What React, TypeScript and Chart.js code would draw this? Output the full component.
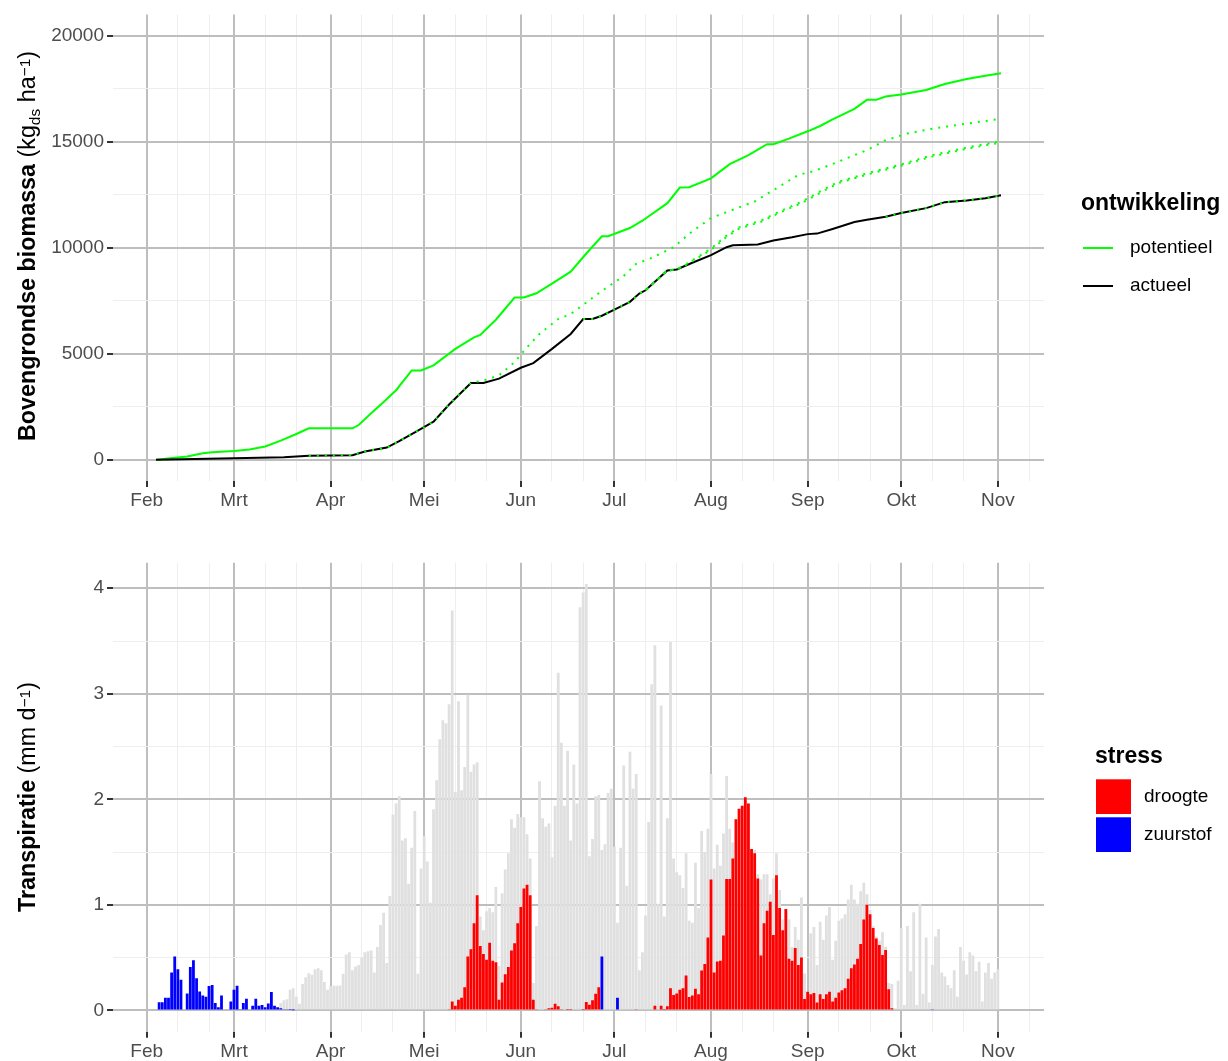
import React, { useEffect, useRef } from "react";
import { Chart, registerables } from "chart.js";

Chart.register(...registerables);

const FONT = '"Liberation Sans", Arial, Helvetica, sans-serif';

// x-as in dagen vanaf 1 februari
const maanden = ["Feb", "Mrt", "Apr", "Mei", "Jun", "Jul", "Aug", "Sep", "Okt", "Nov"];
const maandStart = [0, 28, 59, 89, 120, 150, 181, 212, 242, 273];
const xMin = -10.8;
const xMax = 287.8;

// Bovengrondse biomassa (kg ds/ha) als [dag, waarde]
const potentieel: [number, number][] = [
  [3, 0], [13, 155], [18, 313], [21, 360], [28, 420], [33, 484], [38, 625], [43, 905],
  [48, 1218], [52, 1483], [66, 1483], [68, 1640], [72, 2190], [76, 2730], [80, 3280],
  [85, 4215], [88, 4215], [92, 4450], [99, 5230], [105, 5776], [107, 5886], [112, 6604],
  [118, 7650], [121, 7650], [125, 7853], [130, 8306], [136, 8868], [141, 9727], [146, 10539],
  [148, 10539], [155, 10929], [159, 11273], [167, 12100], [171, 12834], [174, 12850],
  [181, 13270], [187, 13942], [193, 14365], [199, 14880], [201, 14880], [206, 15145],
  [212, 15488], [216, 15738], [220, 16050], [227, 16550], [231, 16970], [234, 16970],
  [237, 17128], [242, 17222], [250, 17440], [256, 17720], [263, 17954], [269, 18110], [274, 18220],
];

const actueel: [number, number][] = [
  [3, 0], [28, 78], [44, 125], [52, 187], [66, 218], [70, 390], [77, 578], [81, 880],
  [87, 1380], [92, 1795], [97, 2608], [104, 3620], [108, 3620], [113, 3825], [120, 4340],
  [124, 4560], [130, 5230], [136, 5933], [140, 6636], [143, 6636], [146, 6792], [151, 7150],
  [155, 7447], [158, 7837], [160, 7993], [167, 8930], [170, 8977], [175, 9290], [181, 9649],
  [186, 10024], [188, 10117], [196, 10148], [201, 10336], [207, 10492], [212, 10640],
  [215, 10665], [220, 10883], [227, 11211], [231, 11321], [237, 11461], [242, 11632],
  [250, 11866], [256, 12147], [263, 12225], [269, 12335], [274, 12475],
];

// Potentiële groei vanaf de actuele stand op een latere startdatum (stippellijnen)
const vanafMaart: [number, number][] = [
  [52, 187], [66, 218], [70, 390], [77, 578], [81, 880], [87, 1380], [92, 1795], [97, 2608],
  [104, 3620], [109, 3780], [113, 3981], [118, 4605], [122, 5307], [126, 5933], [132, 6636],
  [136, 6870], [141, 7415], [146, 7963], [153, 8665], [157, 9240], [162, 9522], [169, 10023],
  [175, 10773], [181, 11396], [188, 11790], [195, 12178], [202, 12803], [209, 13430],
  [214, 13616], [220, 13943], [231, 14599], [237, 15067], [244, 15380], [252, 15614],
  [263, 15848], [274, 16080],
];

const vanafJuni: [number, number][] = [
  [140, 6636], [143, 6636], [146, 6792], [151, 7150], [155, 7447], [158, 7837], [160, 7993],
  [167, 8930], [170, 8977], [173, 9213], [181, 9962], [186, 10570], [190, 10960],
  [197, 11273], [203, 11710], [210, 12160], [216, 12650], [222, 13115], [231, 13505],
  [242, 13927], [252, 14365], [263, 14725], [274, 15022],
];

const vanafJuli: [number, number][] = [
  [160, 7993], [167, 8930], [170, 8977], [173, 9190], [181, 9900], [186, 10510], [190, 10900],
  [197, 11215], [203, 11650], [210, 12100], [216, 12590], [222, 13055], [231, 13445],
  [242, 13870], [252, 14305], [263, 14665], [274, 14960],
];

const vanafSeptember: [number, number][] = [
  [237, 11461], [242, 11632], [250, 11866], [256, 12147], [263, 12225], [269, 12335], [274, 12475],
];

// Transpiratie (mm/d), één waarde per dag vanaf de startdag
const transpiratieStart = 43;
const transpiratie = [
  0.07, 0.095, 0.105, 0.195, 0.21, 0.13, 0.063, 0.25, 0.315, 0.353,
  0.337, 0.39, 0.40, 0.38, 0.27, 0.195, 0.23, 0.233, 0.233, 0.236,
  0.346, 0.53, 0.55, 0.38, 0.415, 0.43, 0.50, 0.55, 0.56, 0.567,
  0.36, 0.60, 0.81, 0.926, 0.45, 1.083, 1.855, 1.96, 2.03, 1.61,
  1.63, 1.20, 1.54, 1.89, 0.346, 1.345, 1.65, 1.41, 1.02, 1.905,
  2.18, 2.57, 2.75, 2.72, 2.90, 3.79, 2.07, 2.93, 2.085, 2.305,
  2.99, 2.26, 2.33, 2.35, 0.89, 0.76, 0.94, 0.97, 0.93, 1.17,
  0.42, 1.11, 1.335, 1.49, 1.81, 1.73, 1.86, 1.83, 1.83, 1.67,
  1.44, 0.26, 0.80, 2.17, 1.82, 1.74, 1.77, 1.45, 1.94, 3.20,
  2.535, 1.94, 2.46, 1.61, 2.33, 1.96, 3.82, 3.96, 4.04, 1.46,
  1.625, 2.03, 2.04, 1.52, 1.575, 2.06, 2.10, 1.55, 0.83, 1.54,
  2.32, 1.18, 2.45, 2.10, 2.24, 0.38, 0.55, 0.90, 1.785, 3.09,
  3.46, 1.01, 2.89, 0.89, 1.82, 3.49, 1.44, 1.31, 1.28, 1.16,
  1.49, 0.85, 0.83, 1.40, 0.97, 1.70, 1.50, 1.72, 2.24, 1.345,
  1.57, 1.37, 1.675, 2.22, 1.72, 1.59, 1.81, 1.91, 1.94, 2.02,
  1.96, 1.53, 1.52, 1.29, 1.24, 1.29, 1.29, 1.10, 1.25, 1.49,
  1.14, 0.86, 0.96, 0.86, 0.60, 0.79, 0.67, 1.07, 0.35, 0.18,
  0.73, 0.79, 0.43, 0.84, 0.67, 0.90, 0.98, 0.48, 0.66, 0.85,
  0.87, 0.91, 1.05, 1.19, 1.05, 1.01, 1.13, 1.21, 1.10, 0.95,
  0.80, 0.70, 0.66, 0.74, 0.60, 0.26, 0.25, 0.02, 0.28, 0.78,
  0.05, 0.80, 0.37, 0.93, 0.05, 1.01, 0.157, 0.69, 0.075, 0.43,
  0.70, 0.77, 0.36, 0.32, 0.24, 0.21, 0.38, 0.13, 0.60, 0.47,
  0.34, 0.55, 0.52, 0.37, 0.46, 0.085, 0.36, 0.45, 0.30, 0.36,
  0.39,
];

// Reductie door droogtestress (mm/d)
const droogteStart = 97;
const droogte = [
  0.01, 0.085, 0.044, 0.10, 0.12, 0.22, 0.51, 0.58, 0.825, 1.09,
  0.61, 0.535, 0.48, 0.64, 0.47, 0.455, 0.10, 0.265, 0.343, 0.41,
  0.567, 0.636, 0.825, 0.98, 1.155, 1.19, 1.09, 0.10, 0.01, 0,
  0, 0.006, 0.02, 0.025, 0.063, 0.038, 0.005, 0, 0.013, 0.013,
  0, 0, 0, 0.013, 0.08, 0.054, 0.095, 0.157, 0.22, 0,
  0, 0, 0, 0, 0, 0, 0, 0, 0, 0,
  0.01, 0, 0, 0, 0, 0, 0.044, 0, 0.044, 0.013,
  0.04, 0.21, 0.145, 0.16, 0.195, 0.21, 0.33, 0.126, 0.14, 0.205,
  0.154, 0.378, 0.44, 0.69, 1.24, 0.36, 0.463, 0.47, 0.71, 1.244,
  1.244, 1.44, 1.81, 1.91, 1.94, 2.02, 1.96, 1.53, 1.49, 1.25,
  0.52, 0.825, 0.945, 1.03, 0.715, 1.28, 0.97, 0.76, 0.96, 0.49,
  0.47, 0.59, 0.43, 0.50, 0.107, 0.176, 0.154, 0.164, 0.075, 0.154,
  0.107, 0.154, 0.176, 0.085, 0.12, 0.17, 0.19, 0.21, 0.30, 0.40,
  0.435, 0.49, 0.63, 0.86, 1.0, 0.91, 0.78, 0.68, 0.62, 0.525,
  0.573, 0.20, 0.02,
];

// Reductie door zuurstofstress (mm/d) als [dag, waarde]
const zuurstof: [number, number][] = [
  [4, 0.076], [5, 0.076], [6, 0.12], [7, 0.12], [8, 0.36], [9, 0.51], [10, 0.39], [11, 0.29],
  [13, 0.16], [14, 0.41], [15, 0.475], [16, 0.305], [17, 0.18], [18, 0.14], [19, 0.13],
  [20, 0.23], [21, 0.24], [22, 0.07], [23, 0.03], [24, 0.14], [27, 0.085], [28, 0.195],
  [29, 0.233], [30, 0.005], [31, 0.07], [32, 0.11], [34, 0.045], [35, 0.11], [36, 0.045],
  [37, 0.05], [38, 0.03], [39, 0.065], [40, 0.175], [41, 0.045], [42, 0.03], [43, 0.02],
  [44, 0.01], [45, 0.006], [46, 0.004], [47, 0.002], [146, 0.51], [151, 0.12], [252, 0.005],
];

const biomassaTicks = [0, 2500, 5000, 7500, 10000, 12500, 15000, 17500, 20000];
const transpiratieTicks = [0, 0.5, 1, 1.5, 2, 2.5, 3, 3.5, 4];

const GRID_MAJOR = "#BEBEBE";
const GRID_MINOR = "#EEEEEE";
const TICK_MARK = "#333333";
const TICK_TEXT = "#4D4D4D";

const xTicks = maandStart
  .flatMap((m) => [m, m + 10, m + 20])
  .filter((v) => v > xMin && v < xMax);

const isMaand = (v: number) => maandStart.includes(v);

type Seg = { t: string; bold?: boolean; small?: boolean; dy?: number };

function drawVerticalTitle(ctx: CanvasRenderingContext2D, segs: Seg[], baseX: number, centerY: number) {
  const fontOf = (s: Seg) => `${s.bold ? "bold " : ""}${s.small ? 15.5 : 23.3}px ${FONT}`;
  const widths = segs.map((s) => {
    ctx.font = fontOf(s);
    return ctx.measureText(s.t).width;
  });
  const total = widths.reduce((a, b) => a + b, 0);
  ctx.save();
  ctx.translate(baseX, centerY);
  ctx.rotate(-Math.PI / 2);
  ctx.fillStyle = "#000000";
  ctx.textAlign = "left";
  ctx.textBaseline = "alphabetic";
  let x = -total / 2;
  segs.forEach((s, i) => {
    ctx.font = fontOf(s);
    ctx.fillText(s.t, x, s.dy ?? 0);
    x += widths[i];
  });
  ctx.restore();
}

const biomassaDecor = {
  id: "biomassaDecor",
  afterDraw(chart: Chart) {
    const ctx = chart.ctx;
    drawVerticalTitle(
      ctx,
      [
        { t: "Bovengrondse biomassa", bold: true },
        { t: " (kg" },
        { t: "ds", small: true, dy: 5 },
        { t: " ha" },
        { t: "\u22121", small: true, dy: -5 },
        { t: ")" },
      ],
      35,
      246
    );
    ctx.save();
    ctx.fillStyle = "#000000";
    ctx.textAlign = "left";
    ctx.textBaseline = "alphabetic";
    ctx.font = `bold 23px ${FONT}`;
    ctx.fillText("ontwikkeling", 1081, 209.5);
    const items = [
      { label: "potentieel", color: "#00FF00", y: 248 },
      { label: "actueel", color: "#000000", y: 286 },
    ];
    ctx.font = `19px ${FONT}`;
    ctx.textBaseline = "middle";
    items.forEach((it) => {
      ctx.strokeStyle = it.color;
      ctx.lineWidth = 2;
      ctx.beginPath();
      ctx.moveTo(1083, it.y);
      ctx.lineTo(1113, it.y);
      ctx.stroke();
      ctx.fillStyle = "#000000";
      ctx.fillText(it.label, 1130, it.y);
    });
    ctx.restore();
  },
};

const transpiratieDecor = {
  id: "transpiratieDecor",
  afterDraw(chart: Chart) {
    const ctx = chart.ctx;
    drawVerticalTitle(
      ctx,
      [
        { t: "Transpiratie", bold: true },
        { t: " (mm d" },
        { t: "\u22121", small: true, dy: -5 },
        { t: ")" },
      ],
      35,
      267
    );
    ctx.save();
    ctx.fillStyle = "#000000";
    ctx.textAlign = "left";
    ctx.textBaseline = "alphabetic";
    ctx.font = `bold 23px ${FONT}`;
    ctx.fillText("stress", 1095, 233.3);
    const items = [
      { label: "droogte", color: "#FF0000", y: 249.3 },
      { label: "zuurstof", color: "#0000FF", y: 287.3 },
    ];
    ctx.font = `19px ${FONT}`;
    ctx.textBaseline = "middle";
    items.forEach((it) => {
      ctx.fillStyle = it.color;
      ctx.fillRect(1096, it.y, 35, 34.7);
      ctx.fillStyle = "#000000";
      ctx.fillText(it.label, 1144, it.y + 17.4);
    });
    ctx.restore();
  },
};

function xScale(height: number, padding: number) {
  return {
    type: "linear" as const,
    min: xMin,
    max: xMax,
    offset: false,
    afterBuildTicks: (axis: any) => {
      axis.ticks = xTicks.map((v) => ({ value: v }));
    },
    afterFit: (axis: any) => {
      axis.height = height;
    },
    ticks: {
      autoSkip: false,
      maxRotation: 0,
      padding,
      color: TICK_TEXT,
      font: { family: FONT, size: 19 },
      callback: (v: any) => {
        const i = maandStart.indexOf(Number(v));
        return i >= 0 ? maanden[i] : "";
      },
    },
    grid: {
      offset: false,
      color: (c: any) => (isMaand(c.tick?.value) ? GRID_MAJOR : GRID_MINOR),
      lineWidth: (c: any) => (isMaand(c.tick?.value) ? 2 : 1),
      tickColor: (c: any) => (isMaand(c.tick?.value) ? TICK_MARK : "rgba(0,0,0,0)"),
      tickWidth: 2,
      tickLength: 6,
      drawTicks: true,
    },
    border: { display: false },
  };
}

function yScale(min: number, max: number, ticks: number[], step: number) {
  const major = (v: number) => Math.abs(v / step - Math.round(v / step)) < 1e-9;
  return {
    type: "linear" as const,
    min,
    max,
    afterBuildTicks: (axis: any) => {
      axis.ticks = ticks.map((v) => ({ value: v }));
    },
    afterFit: (axis: any) => {
      axis.width = 113;
    },
    ticks: {
      autoSkip: false,
      padding: 3,
      color: TICK_TEXT,
      font: { family: FONT, size: 19 },
      callback: (v: any) => (major(Number(v)) ? String(v) : ""),
    },
    grid: {
      color: (c: any) => (major(c.tick?.value) ? GRID_MAJOR : GRID_MINOR),
      lineWidth: (c: any) => (major(c.tick?.value) ? 2 : 1),
      tickColor: (c: any) => (major(c.tick?.value) ? TICK_MARK : "rgba(0,0,0,0)"),
      tickWidth: 2,
      tickLength: 6,
      drawTicks: true,
    },
    border: { display: false },
  };
}

const toPoints = (pairs: [number, number][]) => pairs.map(([x, y]) => ({ x, y }));
const toDaily = (start: number, values: number[]) => values.map((y, i) => ({ x: start + i, y }));

export default function App() {
  const topRef = useRef<HTMLCanvasElement>(null);
  const bottomRef = useRef<HTMLCanvasElement>(null);

  useEffect(() => {
    if (!topRef.current || !bottomRef.current) return;

    const dotted = (data: [number, number][]) => ({
      data: toPoints(data),
      borderColor: "#00FF00",
      borderWidth: 2,
      borderDash: [2, 6],
      borderCapStyle: "butt" as const,
      pointRadius: 0,
      tension: 0,
      fill: false,
    });

    const top = new Chart(topRef.current, {
      type: "line",
      data: {
        datasets: [
          dotted(vanafMaart),
          dotted(vanafJuni),
          dotted(vanafJuli),
          dotted(vanafSeptember),
          {
            label: "actueel",
            data: toPoints(actueel),
            borderColor: "#000000",
            borderWidth: 2,
            pointRadius: 0,
            tension: 0,
            fill: false,
          },
          {
            label: "potentieel",
            data: toPoints(potentieel),
            borderColor: "#00FF00",
            borderWidth: 2,
            pointRadius: 0,
            tension: 0,
            fill: false,
          },
        ],
      },
      options: {
        animation: false,
        responsive: false,
        maintainAspectRatio: false,
        layout: { padding: { left: 0, right: 184, top: 12, bottom: 0 }, autoPadding: false },
        plugins: { legend: { display: false }, tooltip: { enabled: false } },
        scales: {
          x: xScale(49, 2) as any,
          y: yScale(-1000, 21000, biomassaTicks, 5000) as any,
        },
      },
      plugins: [biomassaDecor as any],
    });

    const barBase = {
      grouped: false,
      barPercentage: 0.9,
      categoryPercentage: 1,
      borderWidth: 0,
    };

    const bottom = new Chart(bottomRef.current, {
      type: "bar",
      data: {
        datasets: [
          { ...barBase, label: "zuurstof", data: toPoints(zuurstof), backgroundColor: "#0000FF" },
          { ...barBase, label: "droogte", data: toDaily(droogteStart, droogte), backgroundColor: "#FF0000" },
          {
            ...barBase,
            label: "transpiratie",
            data: toDaily(transpiratieStart, transpiratie),
            backgroundColor: "#E0E0E0",
          },
        ],
      },
      options: {
        animation: false,
        responsive: false,
        maintainAspectRatio: false,
        layout: { padding: { left: 0, right: 184, top: 32.7, bottom: 0 }, autoPadding: false },
        plugins: { legend: { display: false }, tooltip: { enabled: false } },
        scales: {
          x: xScale(29.3, 3) as any,
          y: yScale(-0.202, 4.242, transpiratieTicks, 1) as any,
        },
      },
      plugins: [transpiratieDecor as any],
    });

    return () => {
      top.destroy();
      bottom.destroy();
    };
  }, []);

  return (
    <div
      style={{
        position: "absolute",
        left: 0,
        top: 0,
        width: 1228,
        height: 1061,
        background: "#FFFFFF",
        overflow: "hidden",
      }}
    >
      <canvas ref={topRef} width={1228} height={530} style={{ position: "absolute", left: 0, top: 0 }} />
      <canvas ref={bottomRef} width={1228} height={531} style={{ position: "absolute", left: 0, top: 530 }} />
    </div>
  );
}
